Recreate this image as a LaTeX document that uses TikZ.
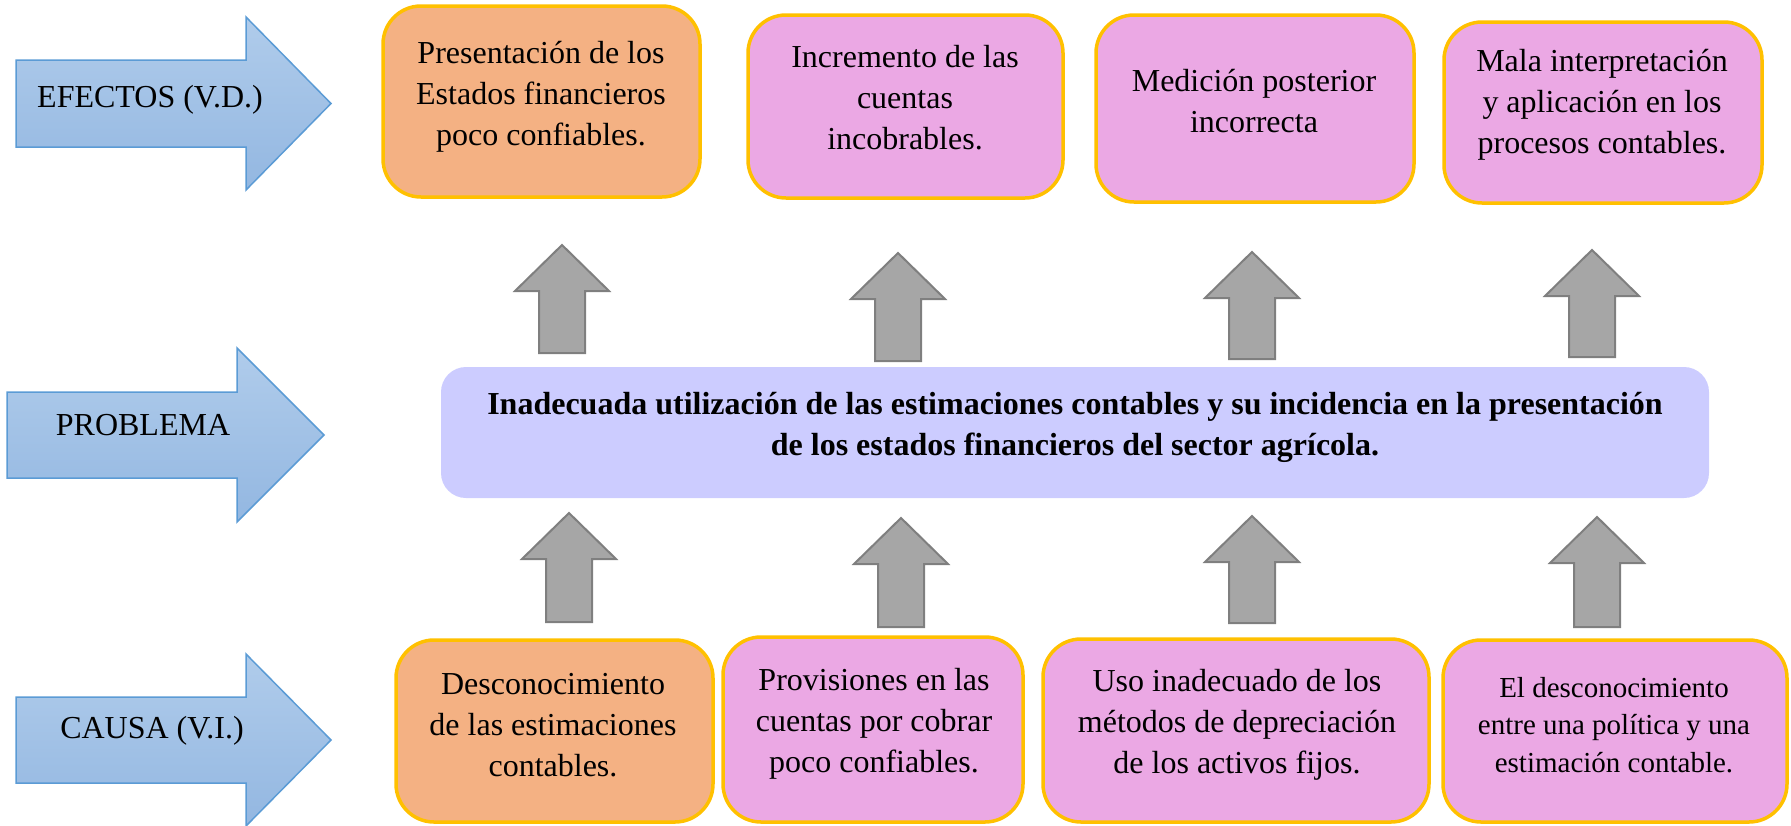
\documentclass[tikz,border=0pt]{standalone}
\usepackage{fontspec}
\setmainfont{Liberation Serif}
\definecolor{gold}{HTML}{FFC000}
\definecolor{orangefill}{HTML}{F4B183}
\definecolor{pinkfill}{HTML}{EBA8E4}
\definecolor{lavender}{HTML}{CCCCFF}
\definecolor{bluetop}{HTML}{B0CCEB}
\definecolor{bluebot}{HTML}{93B7E1}
\definecolor{blueedge}{HTML}{5B9BD5}
\definecolor{grayfill}{HTML}{A6A6A6}
\definecolor{grayedge}{HTML}{7F7F7F}
\newcommand\grayup[3]{%
  \draw[grayarrow] (#1-23,#3) -- (#1-23,#2+46) -- (#1-47,#2+46) -- (#1,#2)
    -- (#1+47,#2+46) -- (#1+23,#2+46) -- (#1+23,#3) -- cycle;}
\newcommand\bluearrowat[6]{% xleft, xhead, xtip, shaft top, shaft bottom, head top/bottom half
  \path[bluearrowstyle] (#1,#4) -- (#2,#4) -- (#2,{(#4+#5)/2-#6}) -- (#3,{(#4+#5)/2})
    -- (#2,{(#4+#5)/2+#6}) -- (#2,#5) -- (#1,#5) -- cycle;}
\begin{document}
\begin{tikzpicture}[x=1pt,y=-1pt,
  box/.style={draw=gold, line width=3.5pt, rounded corners=38pt, inner sep=0pt},
  effbox/.style={box, fill=pinkfill},
  orbox/.style={box, fill=orangefill},
  txt/.style={align=center, inner sep=0pt, font=\fontsize{32}{41}\selectfont},
  smalltxt/.style={align=center, inner sep=0pt, font=\fontsize{29}{37.5}\selectfont},
  grayarrow/.style={fill=grayfill, draw=grayedge, line width=2pt, line join=miter},
  bluearrowstyle/.style={draw=blueedge, line width=1.5pt, top color=bluetop, bottom color=bluebot, line join=miter},
]
\useasboundingbox (0,0) rectangle (1791,825);
\begin{scope}
\clip (0,0) rectangle (1791,825);

% blue side arrows
\bluearrowat{16}{246}{331}{60}{147}{86.5}
\bluearrowat{7}{237}{324}{392}{478}{87}
\bluearrowat{16}{246}{331}{697}{783}{86}
\node[txt] (lefE) at (150,100) {EFECTOS (V.D.)};
\node[txt] (lefP) at (143,425) {PROBLEMA};
\node[txt] (lefC) at (152,731) {CAUSA (V.I.)};

% effect boxes
\node[orbox, minimum width=317pt, minimum height=191pt] (e1) at (541.5,101.5) {};
\node[effbox, minimum width=315pt, minimum height=183pt] (e2) at (905.5,106.5) {};
\node[effbox, minimum width=318pt, minimum height=187pt] (e3) at (1255,108.5) {};
\node[effbox, minimum width=318pt, minimum height=181pt] (e4) at (1603,112.5) {};
\node[txt] (e1t) at (541,97) {Presentación de los\\Estados financieros\\poco confiables.};
\node[txt] (e2t) at (905,98) {Incremento de las\\cuentas\\incobrables.};
\node[txt] (e3t) at (1254,101) {Medición posterior\\incorrecta};
\node[txt] (e4t) at (1602,105) {Mala interpretación\\y aplicación en los\\procesos contables.};

% problem box
\node[fill=lavender, rounded corners=25pt, minimum width=1268pt, minimum height=131pt, inner sep=0pt] (prob) at (1075,432.5) {};
\node[txt, font=\bfseries\fontsize{32}{41}\selectfont] (probt) at (1075,427.5)
  {Inadecuada utilización de las estimaciones contables y su incidencia en la presentación\\de los estados financieros del sector agrícola.};

% cause boxes
\node[orbox, minimum width=317pt, minimum height=182pt] (c1) at (554.5,731) {};
\node[effbox, minimum width=300pt, minimum height=185pt] (c2) at (873,729.5) {};
\node[effbox, minimum width=386pt, minimum height=183pt] (c3) at (1236,730.5) {};
\node[effbox, minimum width=344pt, minimum height=182pt] (c4) at (1615,731) {};
\node[txt] (c1t) at (553,725) {Desconocimiento\\de las estimaciones\\contables.};
\node[txt] (c2t) at (874,724) {Provisiones en las\\cuentas por cobrar\\poco confiables.};
\node[txt] (c3t) at (1237,725) {Uso inadecuado de los\\métodos de depreciación\\de los activos fijos.};
\node[smalltxt] (c4t) at (1614,725) {El desconocimiento\\entre una política y una\\estimación contable.};

% gray block arrows (problem -> effects)
\grayup{562}{245}{353}
\grayup{898}{253}{361}
\grayup{1252}{252}{359}
\grayup{1592}{250}{357}
% gray block arrows (causes -> problem)
\grayup{569}{513}{622}
\grayup{901}{518}{627}
\grayup{1252}{516}{623}
\grayup{1597}{517}{627}
\end{scope}
\end{tikzpicture}
\end{document}
